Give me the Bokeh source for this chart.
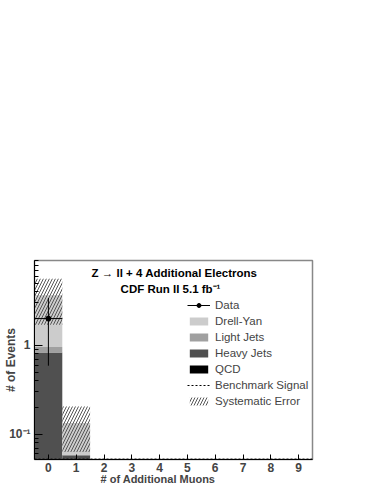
import math
from bokeh.plotting import figure
from bokeh.models import Range1d, Legend, LegendItem, FixedTicker, ColumnDataSource, Title, Label
from bokeh.embed import file_html
from bokeh.resources import INLINE

# ---- data ----
bins = [0, 1, 2, 3, 4, 5, 6, 7, 8, 9]
tick_labels = ["0", "1", "2", "3", "4", "5", "6", "7", "8", "9"]
qcd        = [0.0, 0.0, 0, 0, 0, 0, 0, 0, 0, 0]
heavy_jets = [0.83, 0.058, 0, 0, 0, 0, 0, 0, 0, 0]
light_jets = [0.13, 0.0, 0, 0, 0, 0, 0, 0, 0, 0]
drell_yan  = [2.69, 0.076, 0, 0, 0, 0, 0, 0, 0, 0]
syst_err   = [1.95, 0.071, 0, 0, 0, 0, 0, 0, 0, 0]
data       = [2.0, 0, 0, 0, 0, 0, 0, 0, 0, 0]
data_err   = [1.41, 0, 0, 0, 0, 0, 0, 0, 0, 0]
signal     = [0.0, 0, 0, 0, 0, 0, 0, 0, 0, 0]

Y_MIN, Y_MAX = 0.052, 9.0
FLOOR = 1e-4

p = figure(width=374, height=484, output_backend="svg", toolbar_location=None,
           x_range=Range1d(-0.5, 9.5), y_range=Range1d(Y_MIN, Y_MAX), y_axis_type="log",
           min_border_left=34, min_border_right=62, min_border_top=260, min_border_bottom=25)
p.background_fill_color = "white"
p.border_fill_color = "white"
p.outline_line_color = "#888888"
p.outline_line_width = 1.5
p.grid.visible = False

# ---- stack ----
layers = [("QCD", qcd, "#000000"), ("Heavy Jets", heavy_jets, "#505050"),
          ("Light Jets", light_jets, "#a0a0a0"), ("Drell-Yan", drell_yan, "#cccccc")]
cum = [0.0] * len(bins)
stack_r = {}
for name, vals, col in layers:
    L, R, B, T = [], [], [], []
    for i, b in enumerate(bins):
        lo = cum[i]
        hi = cum[i] + vals[i]
        L.append(b - 0.5); R.append(b + 0.5)
        B.append(max(lo, FLOOR)); T.append(max(hi, FLOOR))
        cum[i] = hi
    src = ColumnDataSource(dict(left=L, right=R, bottom=B, top=T))
    stack_r[name] = p.quad(left="left", right="right", bottom="bottom", top="top", source=src,
                           fill_color=col, line_color=None)
total = cum

# ---- signal (below range -> drawn at lower edge) ----
sx, sy = [], []
for i, b in enumerate(bins):
    v = max(signal[i], Y_MIN * 1.01)
    sx += [b - 0.5, b + 0.5]; sy += [v, v]
sig_r = p.line(sx, sy, line_color="black", line_dash="2 2", line_width=1)

# ---- systematic error band ----
eL, eR, eB, eT = [], [], [], []
for i, b in enumerate(bins):
    if syst_err[i] > 0:
        eL.append(b - 0.5); eR.append(b + 0.5)
        eB.append(total[i] - syst_err[i]); eT.append(total[i] + syst_err[i])
err_r = p.quad(left=eL, right=eR, bottom=eB, top=eT, fill_alpha=0, line_color=None,
               hatch_pattern="/", hatch_color="#555555", hatch_scale=6, hatch_weight=1)

# ---- data ----
dx, dy, x0, x1, y0, y1 = [], [], [], [], [], []
for i, b in enumerate(bins):
    if data[i] > 0:
        dx.append(b); dy.append(data[i])
        x0.append(b); x1.append(b)
        y0.append(data[i] - data_err[i]); y1.append(data[i] + data_err[i])
seg_v = p.segment(x0=x0, y0=y0, x1=x1, y1=y1, line_color="black", line_width=1)
seg_h = p.segment(x0=[b - 0.5 for b in dx], y0=dy, x1=[b + 0.5 for b in dx], y1=dy,
                  line_color="black", line_width=1)
dot = p.scatter(dx, dy, size=5, color="black")

# ---- axes ----
xa = p.xaxis[0]
xa.ticker = FixedTicker(ticks=bins)
xa.major_label_overrides = {b: t for b, t in zip(bins, tick_labels)}
xa.major_tick_in = 5
xa.major_tick_out = 0
xa.minor_tick_line_color = None
xa.axis_line_color = "black"
xa.major_label_text_font = "Liberation Sans"
xa.major_label_text_font_style = "bold"
xa.major_label_text_font_size = "12px"
xa.major_label_standoff = 3

ya = p.yaxis[0]
ya.major_tick_in = 8
ya.major_tick_out = 0
ya.minor_tick_in = 4
ya.minor_tick_out = 0
ya.axis_line_color = "black"
ya.major_label_overrides = {1: "1", 0.1: "10\u207b\u00b9"}
ya.major_label_text_font = "Liberation Sans"
ya.major_label_text_font_style = "bold"
ya.major_label_text_font_size = "12px"
ya.major_label_standoff = 4
ya.axis_label = "# of Events"
ya.axis_label_text_font = "Liberation Sans"
ya.axis_label_text_font_style = "bold"
ya.axis_label_text_font_size = "12px"
ya.axis_label_standoff = -12

# x-axis title, placed left of centre as in the reference
p.add_layout(Title(text="# of Additional Muons", align="left", offset=66, standoff=-7,
                   text_font="Liberation Sans", text_font_style="bold",
                   text_font_size="11px"), "below")

# ---- texts in the frame ----
def lab(text, x, y, size):
    p.add_layout(Label(text=text, x=x, y=y, x_units="screen", y_units="screen",
                       text_font="Liberation Sans", text_font_size=size,
                       text_font_style="bold", text_align="center",
                       text_baseline="middle", text_color="black"))

lab("Z \u2192 ll + 4 Additional Electrons", 140, 187, "11.5px")
lab("CDF Run II 5.1 fb\u207b\u00b9", 136, 171, "11.5px")

# ---- legend ----
items = [LegendItem(label="Data", renderers=[seg_h, dot]),
         LegendItem(label="Drell-Yan", renderers=[stack_r["Drell-Yan"]]),
         LegendItem(label="Light Jets", renderers=[stack_r["Light Jets"]]),
         LegendItem(label="Heavy Jets", renderers=[stack_r["Heavy Jets"]]),
         LegendItem(label="QCD", renderers=[stack_r["QCD"]]),
         LegendItem(label="Benchmark Signal", renderers=[sig_r]),
         LegendItem(label="Systematic Error", renderers=[err_r])]
leg = Legend(items=items, location=(153, 50), padding=0, margin=0, spacing=0,
             glyph_width=23, glyph_height=10, label_height=16, label_standoff=5,
             label_text_font="Liberation Sans", label_text_font_size="11.5px",
             background_fill_alpha=0, border_line_color=None)
p.add_layout(leg, "center")

open("out.html", "w").write(file_html(p, INLINE))
